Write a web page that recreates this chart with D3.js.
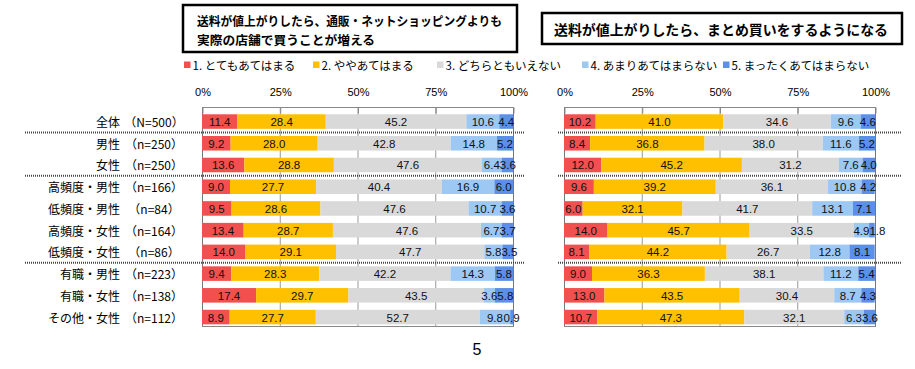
<!DOCTYPE html>
<html><head><meta charset="utf-8">
<script src="https://cdn.jsdelivr.net/npm/d3@7"></script>
<style>
body{margin:0;background:#fff;}
svg{display:block;}
.jp{font-family:"Noto Sans CJK JP","Noto Sans",sans-serif;}
</style></head>
<body>
<svg id="c" width="915" height="369"></svg>
<script>
const categories = ["全体","男性","女性","高頻度・男性","低頻度・男性","高頻度・女性","低頻度・女性","有職・男性","有職・女性","その他・女性"];
const sampleSizes = ["（N=500）","（n=250）","（n=250）","（n=166）","（n=84）","（n=164）","（n=86）","（n=223）","（n=138）","（n=112）"];
const seriesNames = ["1. とてもあてはまる","2. ややあてはまる","3. どちらともいえない","4. あまりあてはまらない","5. まったくあてはまらない"];
const colors = ["#F24F4F","#FFC000","#D9D9D9","#9DC8F4","#5B8FE8"];
const titles = ["送料が値上がりしたら、通販・ネットショッピングよりも\n実際の店舗で買うことが増える","送料が値上がりしたら、まとめ買いをするようになる"];
// chart 1: store purchase increases
const leftValues = [
  [11.4,28.4,45.2,10.6,4.4],
  [9.2,28.0,42.8,14.8,5.2],
  [13.6,28.8,47.6,6.4,3.6],
  [9.0,27.7,40.4,16.9,6.0],
  [9.5,28.6,47.6,10.7,3.6],
  [13.4,28.7,47.6,6.7,3.7],
  [14.0,29.1,47.7,5.8,3.5],
  [9.4,28.3,42.2,14.3,5.8],
  [17.4,29.7,43.5,3.6,5.8],
  [8.9,27.7,52.7,9.8,0.9]
];
// chart 2: bulk buying
const rightValues = [
  [10.2,41.0,34.6,9.6,4.6],
  [8.4,36.8,38.0,11.6,5.2],
  [12.0,45.2,31.2,7.6,4.0],
  [9.6,39.2,36.1,10.8,4.2],
  [6.0,32.1,41.7,13.1,7.1],
  [14.0,45.7,33.5,4.9,1.8],
  [8.1,44.2,26.7,12.8,8.1],
  [9.0,36.3,38.1,11.2,5.4],
  [13.0,43.5,30.4,8.7,4.3],
  [10.7,47.3,32.1,6.3,3.6]
];
const tickValues = [0,25,50,75,100];
const separatorsAfter = [0,2,6];

const svg = d3.select("#c");
const y = d3.scaleBand().domain(categories).range([107.1,331.5]).padding(0.33);
const numFont = '"Liberation Sans",Arial,sans-serif';

// title boxes
const tb = [
  {x:183,y:5,w:334,h:47,lines:titles[0].split("\n"),size:12.5,lens:[305,178]},
  {x:542,y:13,w:360,h:31,lines:[titles[1]],size:14,lens:[334]}
];
tb.forEach(b=>{
  svg.append("rect").attr("x",b.x).attr("y",b.y).attr("width",b.w).attr("height",b.h)
    .attr("fill","#fff").attr("stroke","#000").attr("stroke-width",2.5);
  if(b.lines.length===1){
    svg.append("text").attr("class","jp").attr("font-weight","bold").attr("font-size",b.size).attr("fill","#000")
      .attr("x",b.x+12).attr("y",b.y+b.h/2).attr("dominant-baseline","central")
      .attr("textLength",b.lens[0]).attr("lengthAdjust","spacingAndGlyphs").text(b.lines[0]);
  } else {
    b.lines.forEach((l,i)=>svg.append("text").attr("class","jp").attr("font-weight","bold").attr("font-size",b.size).attr("fill","#000")
      .attr("x",b.x+14).attr("y",b.y+15.5+i*18.5).attr("dominant-baseline","central")
      .attr("textLength",b.lens[i]).attr("lengthAdjust","spacingAndGlyphs").text(l));
  }
});

// legend
const legendX = [184,313,437,582,723];
seriesNames.forEach((s,i)=>{
  svg.append("rect").attr("x",legendX[i]).attr("y",61.5).attr("width",6.5).attr("height",6.5).attr("fill",colors[i]);
  svg.append("text").attr("class","jp").attr("x",legendX[i]+8.5).attr("y",65).attr("dominant-baseline","central")
    .attr("font-size",11.5).attr("fill","#000").text(s);
});

function drawChart(values, x0, x1, sepX0, sepX1){
  const x = d3.scaleLinear().domain([0,100]).range([x0,x1]);
  const g = svg.append("g");
  const top = 107.5, bottom = 326.5;
  g.selectAll(".grid").data(tickValues).join("line")
    .attr("x1",d=>x(d)+0.5).attr("x2",d=>x(d)+0.5).attr("y1",top).attr("y2",bottom)
    .attr("stroke",d=>(d===0||d===100)?"#777":"#999").attr("stroke-width",1);
  const axis = d3.axisTop(x).tickValues(tickValues).tickFormat(d=>d+"%").tickSize(-6).tickPadding(12);
  const ag = g.append("g").attr("transform",`translate(0.5,${top})`).call(axis);
  ag.select(".domain").remove();
  ag.selectAll(".tick line").attr("stroke","#888");
  ag.selectAll(".tick text").attr("font-family",'"Liberation Sans Narrow","Liberation Sans",sans-serif')
    .attr("font-size",11).attr("fill","#000");
  g.append("line").attr("x1",x0).attr("x2",x1+1).attr("y1",top).attr("y2",top).attr("stroke","#888");
  g.append("line").attr("x1",x0).attr("x2",x1+1).attr("y1",bottom).attr("y2",bottom).attr("stroke","#888");
  const rows = categories.map((c,i)=>{
    let acc=0; return values[i].map((v,k)=>{const s={cat:c,k,v,x0:acc,x1:acc+v}; acc+=v; return s;});
  });
  const stackData = rows.flat();
  g.selectAll(".bar").data(stackData).join("rect")
    .attr("x",d=>x(d.x0)).attr("width",d=>x(d.x1)-x(d.x0))
    .attr("y",d=>y(d.cat)).attr("height",y.bandwidth()).attr("fill",d=>colors[d.k]);
  rows.forEach(row=>{
    let prevEnd = -Infinity;
    row.forEach(d=>{
      const t = g.append("text").attr("y",y(d.cat)+y.bandwidth()/2+0.5)
        .attr("text-anchor","start").attr("dominant-baseline","central")
        .attr("font-family",numFont).attr("font-size",11.5).attr("fill","#111")
        .text(d.v.toFixed(1));
      const w = t.node().getComputedTextLength();
      let left = x((d.x0+d.x1)/2) - w/2;
      if(left < prevEnd) left = prevEnd;
      t.attr("x",left);
      prevEnd = left + w;
    });
  });
  separatorsAfter.forEach(i=>{
    const yy = y(categories[i]) + y.step() - (y.step()-y.bandwidth())/2;
    svg.append("line").attr("x1",sepX0).attr("x2",sepX1).attr("y1",yy).attr("y2",yy)
      .attr("stroke","#444").attr("stroke-width",2).attr("stroke-dasharray","1,1");
  });
}
drawChart(leftValues, 202, 513, 25, 525);
drawChart(rightValues, 564, 875, 558, 902);

categories.forEach((c,i)=>{
  const cy = y(c)+y.bandwidth()/2;
  svg.append("text").attr("class","jp").attr("x",120).attr("y",cy).attr("text-anchor","end")
    .attr("dominant-baseline","central").attr("font-size",12).attr("fill","#000").text(c);
  svg.append("text").attr("class","jp").attr("x",154).attr("y",cy).attr("text-anchor","middle")
    .attr("dominant-baseline","central").attr("font-size",12).attr("fill","#000").text(sampleSizes[i]);
});

svg.append("text").attr("x",477).attr("y",349).attr("text-anchor","middle").attr("dominant-baseline","central")
  .attr("font-family",numFont).attr("font-size",16).attr("fill","#000").text("5");
</script>
</body></html>
